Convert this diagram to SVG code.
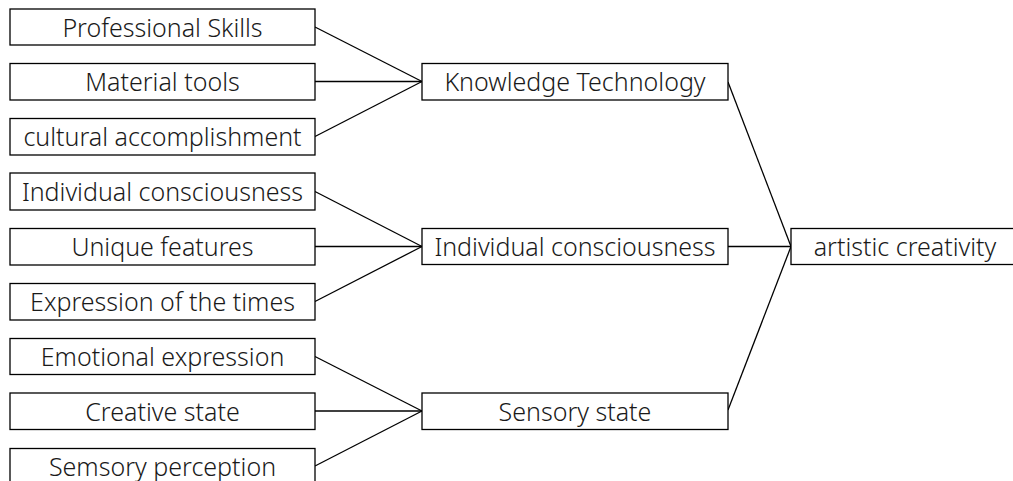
<svg xmlns="http://www.w3.org/2000/svg" width="1013" height="481" viewBox="0 0 1013 481">
<style>
rect{fill:#fff;stroke:#000;stroke-width:1.3}
text{font-family:"Noto Sans","Open Sans",sans-serif;font-size:25px;font-weight:300;fill:#1a1a1a;text-anchor:middle}
#connectors line{stroke:#000;stroke-width:1.3}
</style>
<rect x="0" y="0" width="1013" height="481" fill="#fff" stroke="none" style="stroke:none"/>
<g id="connectors">
<line x1="315" y1="27" x2="422" y2="81.5"/>
<line x1="315" y1="81.5" x2="422" y2="81.5"/>
<line x1="315" y1="136.5" x2="422" y2="81.5"/>
<line x1="315" y1="191.5" x2="422" y2="246.5"/>
<line x1="315" y1="246.5" x2="422" y2="246.5"/>
<line x1="315" y1="301.5" x2="422" y2="246.5"/>
<line x1="315" y1="356.5" x2="422" y2="411"/>
<line x1="315" y1="411" x2="422" y2="411"/>
<line x1="315" y1="466" x2="422" y2="411"/>
<line x1="728" y1="82" x2="791" y2="246.5"/>
<line x1="728" y1="246.5" x2="791" y2="246.5"/>
<line x1="728" y1="410" x2="791" y2="246.5"/>
</g>
<g id="n1"><rect x="10" y="9" width="305" height="36"/><text x="162.5" y="36.5">Professional Skills</text></g>
<g id="n2"><rect x="10" y="63.5" width="305" height="36.5"/><text x="162.5" y="91">Material tools</text></g>
<g id="n3"><rect x="10" y="118.5" width="305" height="36.5"/><text x="162.5" y="146">cultural accomplishment</text></g>
<g id="n4"><rect x="10" y="173" width="305" height="37"/><text x="162.5" y="201">Individual consciousness</text></g>
<g id="n5"><rect x="10" y="228.5" width="305" height="36.5"/><text x="162.5" y="256">Unique features</text></g>
<g id="n6"><rect x="10" y="283.5" width="305" height="36.5"/><text x="162.5" y="311">Expression of the times</text></g>
<g id="n7"><rect x="10" y="338.5" width="305" height="36"/><text x="162.5" y="366">Emotional expression</text></g>
<g id="n8"><rect x="10" y="393" width="305" height="36.5"/><text x="162.5" y="420.5">Creative state</text></g>
<g id="n9"><rect x="10" y="448.5" width="305" height="40"/><text x="162.5" y="476">Semsory perception</text></g>
<g id="m1"><rect x="422" y="63.5" width="306" height="36.5"/><text x="575" y="91">Knowledge Technology</text></g>
<g id="m2"><rect x="422" y="228.5" width="306" height="36"/><text x="575" y="256">Individual consciousness</text></g>
<g id="m3"><rect x="422" y="393" width="306" height="36.5"/><text x="575" y="420.5">Sensory state</text></g>
<g id="r1"><rect x="791" y="228.5" width="230" height="36"/><text x="905" y="256">artistic creativity</text></g>
</svg>
